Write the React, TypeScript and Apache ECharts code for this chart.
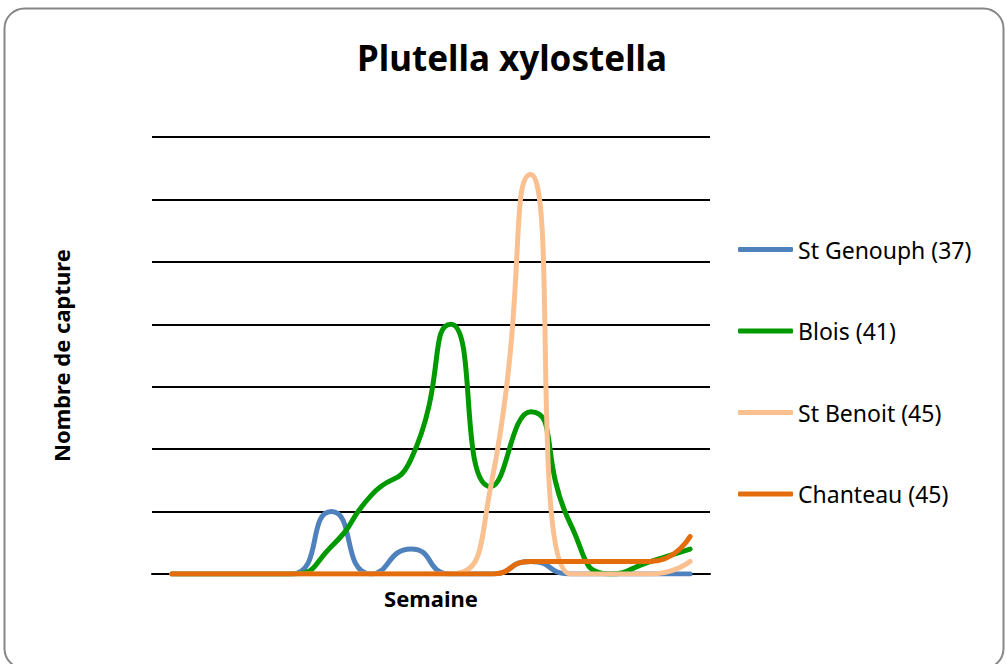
import React, { useEffect, useRef } from "react";
import * as echarts from "echarts";

const weeks = ["S1", "S2", "S3", "S4", "S5", "S6", "S7", "S8", "S9", "S10", "S11", "S12", "S13", "S14"];
const stGenouph = [0, 0, 0, 0, 5, 0, 2, 0, 0, 1, 0, 0, 0, 0];
const blois = [0, 0, 0, 0, 2.2, 6.3, 9.2, 20, 7, 13, 4, 0, 1, 2];
const stBenoit = [0, 0, 0, 0, 0, 0, 0, 0, 7, 32, 0, 0, 0, 1];
const chanteau = [0, 0, 0, 0, 0, 0, 0, 0, 0, 1, 1, 1, 1, 3];
const seriesNames = ["St Genouph (37)", "Blois (41)", "St Benoit (45)", "Chanteau (45)"];
const seriesColors = ["#4F81BD", "#009A00", "#FAC090", "#E46C0A"];

export default function App() {
  const ref = useRef<HTMLDivElement>(null);
  useEffect(() => {
    if (!ref.current) return;
    const chart = echarts.init(ref.current, null, { renderer: "svg" });
    const data = [stGenouph, blois, stBenoit, chanteau];
    chart.setOption({
      animation: false,
      backgroundColor: "#ffffff",
      title: {
        text: "Plutella xylostella",
        left: 507,
        top: 35,
        textAlign: "center",
        textStyle: { fontFamily: "Noto Sans", fontWeight: "bold", fontSize: 35, color: "#000" },
      },
      graphic: [
        {
          type: "rect",
          shape: { x: 4.5, y: 8.5, width: 999, height: 660, r: 20 },
          style: { fill: "none", stroke: "#878787", lineWidth: 2 },
          silent: true,
        },
      ],
      legend: {
        orient: "vertical",
        left: 738,
        top: 238,
        padding: 0,
        itemWidth: 55,
        itemHeight: 5,
        itemGap: 58.5,
        icon: "roundRect",
        textStyle: { fontFamily: "Noto Sans", fontSize: 23, lineHeight: 22, color: "#000" },
        data: seriesNames,
      },
      grid: { left: 152, right: 296, top: 137, bottom: 90 },
      xAxis: {
        type: "category",
        data: weeks,
        boundaryGap: true,
        name: "Semaine",
        nameLocation: "middle",
        nameGap: 13,
        nameTextStyle: { fontFamily: "Noto Sans", fontWeight: "bold", fontSize: 22, color: "#000" },
        axisLine: { show: true, lineStyle: { color: "#000", width: 2 } },
        axisTick: { show: false },
        axisLabel: { show: false },
      },
      yAxis: {
        type: "value",
        min: 0,
        max: 35,
        interval: 5,
        name: "Nombre de capture",
        nameLocation: "middle",
        nameGap: 80,
        nameTextStyle: { fontFamily: "Noto Sans", fontWeight: "bold", fontSize: 22, color: "#000" },
        axisLine: { show: false },
        axisTick: { show: false },
        axisLabel: { show: false },
        splitLine: { show: true, lineStyle: { color: "#000", width: 2 } },
      },
      series: data.map((d, i) => ({
        name: seriesNames[i],
        type: "line",
        data: d,
        smooth: 0.6,
        symbol: "none",
        color: seriesColors[i],
        lineStyle: { width: 5, color: seriesColors[i], cap: "round" },
      })),
    });
    return () => chart.dispose();
  }, []);
  return (
    <div
      ref={ref}
      style={{ position: "absolute", left: 0, top: 0, width: 1006, height: 664 }}
    />
  );
}
